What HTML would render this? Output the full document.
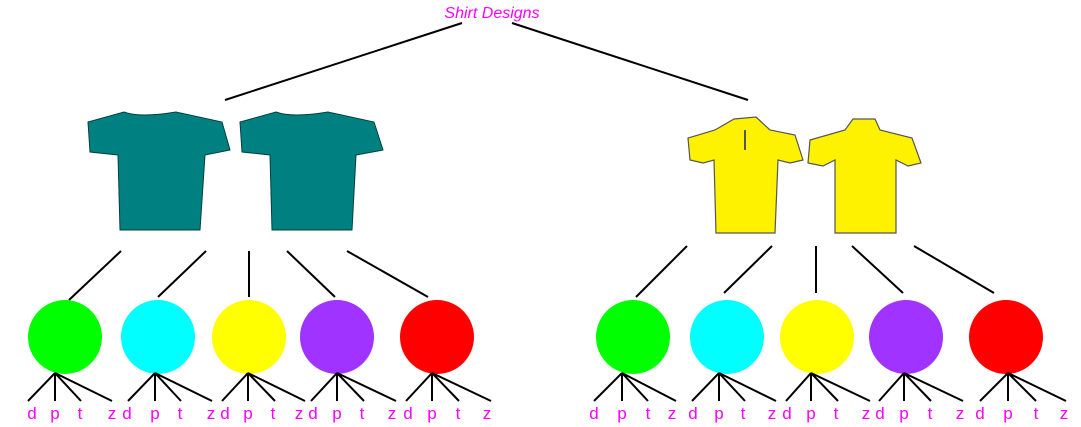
<!DOCTYPE html>
<html><head><style>html,body{margin:0;padding:0;background:#fff}svg{display:block}</style></head>
<body>
<svg width="1081" height="427" xmlns="http://www.w3.org/2000/svg">
<g stroke="#000" stroke-width="2" fill="none">
<line x1="462" y1="23" x2="225" y2="100"/>
<line x1="512" y1="23" x2="748" y2="100"/>
<line x1="121" y1="251" x2="69" y2="300"/>
<line x1="206" y1="251" x2="158" y2="297"/>
<line x1="249" y1="251" x2="249" y2="297"/>
<line x1="287" y1="251" x2="335" y2="297"/>
<line x1="347" y1="251" x2="428" y2="297"/>
<line x1="687" y1="246" x2="636" y2="297"/>
<line x1="772" y1="246" x2="724" y2="293"/>
<line x1="816" y1="246" x2="816" y2="293"/>
<line x1="852" y1="246" x2="903" y2="293"/>
<line x1="914" y1="246" x2="994" y2="293"/>
</g>
<text x="492" y="18" text-anchor="middle" font-family="Liberation Sans, sans-serif" font-style="italic" font-size="16" fill="#ff00ff">Shirt Designs</text>
<!-- teal shirts -->
<g fill="#008080" stroke="#004040" stroke-width="1">
<path d="M124 112 Q140 118 176 112 L222 122 L230 150 L205 155 L200 230 L120 230 L118 155 L90 152 L88 122 Z"/>
<path d="M276 112 Q292 118 328 112 L374 122 L383 150 L356 155 L352 230 L272 230 L270 155 L242 152 L240 122 Z"/>
</g>
<!-- yellow shirts -->
<g fill="#fff200" stroke="#555" stroke-width="1.2">
<path d="M734 119 L756 117 L770 130 L795 135 L803 160 L790 163 L778 160 L775 233 L716 233 L714 160 L703 163 L690 160 L688 138 L715 130 Z"/>
<path d="M853 119 L875 119 L880 130 L912 138 L921 163 L908 166 L896 160 L896 233 L835 233 L835 160 L823 166 L808 163 L810 140 L845 130 Z"/>
<line x1="745" y1="130" x2="745" y2="150" stroke-width="2"/>
</g>
<g>
<circle cx="65" cy="337" r="37" fill="#00ff00"/>
<circle cx="158" cy="337" r="37" fill="#00ffff"/>
<circle cx="249" cy="337" r="37" fill="#ffff00"/>
<circle cx="337" cy="337" r="37" fill="#a033ff"/>
<circle cx="437" cy="337" r="37" fill="#ff0000"/>
<circle cx="633" cy="337" r="37" fill="#00ff00"/>
<circle cx="727" cy="337" r="37" fill="#00ffff"/>
<circle cx="817" cy="337" r="37" fill="#ffff00"/>
<circle cx="906" cy="337" r="37" fill="#a033ff"/>
<circle cx="1006" cy="337" r="37" fill="#ff0000"/>
</g>
<g stroke="#000" stroke-width="2">
<path d="M55 373 L28 401 M55 373 L55 401 M55 373 L81 401 M55 373 L112 401"/>
<path d="M155 373 L128 401 M155 373 L155 401 M155 373 L181 401 M155 373 L212 401"/>
<path d="M248 373 L222 401 M248 373 L248 401 M248 373 L275 401 M248 373 L305 401"/>
<path d="M337 373 L311 401 M337 373 L337 401 M337 373 L364 401 M337 373 L396 401"/>
<path d="M432 373 L406 401 M432 373 L432 401 M432 373 L459 401 M432 373 L491 401"/>
<path d="M622 373 L594 401 M622 373 L622 401 M622 373 L648 401 M622 373 L676 401"/>
<path d="M719 373 L692 401 M719 373 L719 401 M719 373 L745 401 M719 373 L776 401"/>
<path d="M811 373 L786 401 M811 373 L811 401 M811 373 L838 401 M811 373 L870 401"/>
<path d="M904 373 L879 401 M904 373 L904 401 M904 373 L931 401 M904 373 L963 401"/>
<path d="M1008 373 L980 401 M1008 373 L1008 401 M1008 373 L1036 401 M1008 373 L1066 401"/>
</g>
<g font-family="Liberation Sans, sans-serif" font-size="17" fill="#ff00ff" text-anchor="middle">
<text x="32" y="419">d</text><text x="55" y="419">p</text><text x="80" y="419">t</text><text x="112" y="419">z</text>
<text x="127" y="419">d</text><text x="155" y="419">p</text><text x="180" y="419">t</text><text x="211" y="419">z</text>
<text x="225" y="419">d</text><text x="248" y="419">p</text><text x="273" y="419">t</text><text x="299" y="419">z</text>
<text x="313" y="419">d</text><text x="337" y="419">p</text><text x="362" y="419">t</text><text x="392" y="419">z</text>
<text x="408" y="419">d</text><text x="432" y="419">p</text><text x="458" y="419">t</text><text x="487" y="419">z</text>
<text x="594" y="419">d</text><text x="622" y="419">p</text><text x="648" y="419">t</text><text x="672" y="419">z</text>
<text x="693" y="419">d</text><text x="719" y="419">p</text><text x="743" y="419">t</text><text x="772" y="419">z</text>
<text x="787" y="419">d</text><text x="811" y="419">p</text><text x="836" y="419">t</text><text x="866" y="419">z</text>
<text x="880" y="419">d</text><text x="904" y="419">p</text><text x="930" y="419">t</text><text x="960" y="419">z</text>
<text x="980" y="419">d</text><text x="1008" y="419">p</text><text x="1036" y="419">t</text><text x="1064" y="419">z</text>
</g>
</svg>
</body></html>
